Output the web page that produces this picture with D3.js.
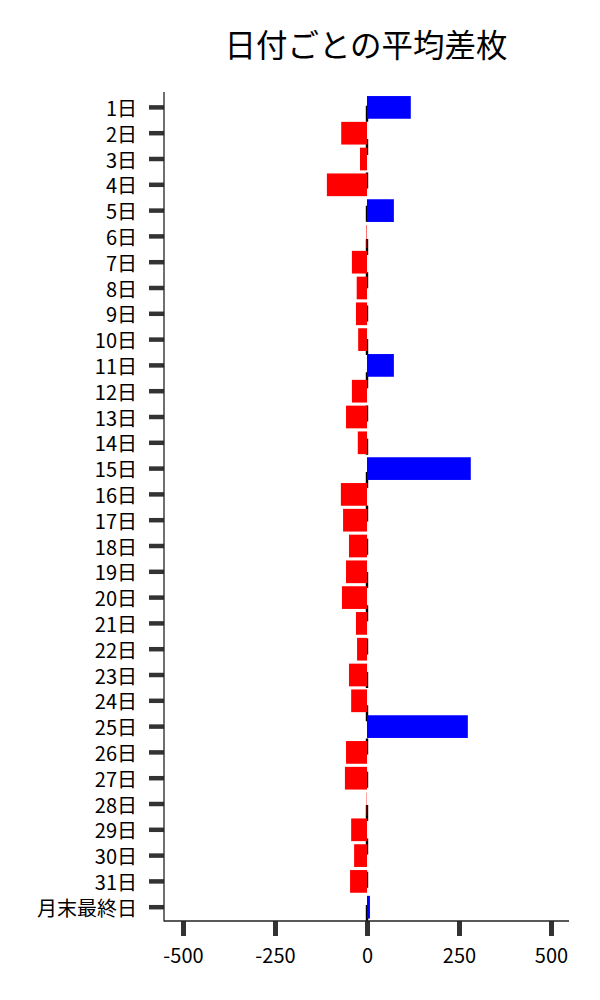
<!DOCTYPE html>
<html>
<head>
<meta charset="utf-8">
<script src="https://cdn.jsdelivr.net/npm/d3@7"></script>
<style>
  html, body { margin: 0; padding: 0; background: #fff; }
  svg { display: block; font-family: "Noto Sans CJK JP", "Noto Sans", sans-serif; }
</style>
</head>
<body>
<svg id="chart" width="600" height="1000"></svg>
<script>
const title = "日付ごとの平均差枚";
const categories = ["1日","2日","3日","4日","5日","6日","7日","8日","9日","10日",
  "11日","12日","13日","14日","15日","16日","17日","18日","19日","20日",
  "21日","22日","23日","24日","25日","26日","27日","28日","29日","30日","31日","月末最終日"];
const values = [119, -70, -19, -109, 73, -1.5, -41, -28, -30, -24,
  73, -41, -57, -25, 282, -71, -65, -49, -57, -68,
  -30, -27, -49, -43, 274, -57, -60, -1, -43, -35, -46, 8];
const xTicks = [-500, -250, 0, 250, 500];

const svg = d3.select("#chart");
const mLeft = 164, mRight = 569, mTop = 92, mBottom = 921;

const x = d3.scaleLinear().domain([-551.6, 548.9]).range([mLeft, mRight]);
const y = d3.scaleBand().domain(categories).range([94.5, 920.1])
  .paddingInner(0.12).paddingOuter(0.06);

// zero reference dashed line (drawn from bottom upward)
svg.append("line")
  .attr("x1", x(0)).attr("x2", x(0))
  .attr("y1", mBottom).attr("y2", mTop)
  .attr("stroke", "#000").attr("stroke-width", 2.4)
  .attr("stroke-dasharray", "16,17.3");

// bars
svg.append("g").selectAll("rect")
  .data(categories.map((c, i) => ({c, v: values[i]})))
  .join("rect")
  .attr("x", d => x(Math.min(0, d.v)))
  .attr("width", d => Math.abs(x(d.v) - x(0)))
  .attr("y", d => y(d.c))
  .attr("height", y.bandwidth())
  .attr("fill", d => d.v >= 0 ? "#0000ff" : "#ff0000");

// y axis
const yAxis = svg.append("g").attr("transform", `translate(${mLeft},0)`)
  .call(d3.axisLeft(y).tickSize(15).tickPadding(12));
yAxis.select(".domain").remove();
yAxis.selectAll(".tick line").attr("stroke", "#333").attr("stroke-width", 4.5);
yAxis.selectAll(".tick text")
  .attr("fill", "#000").attr("font-size", 20)
  .attr("font-family", "'Noto Sans CJK JP', sans-serif")
  .attr("dy", null).attr("dominant-baseline", "central");

// x axis
const xAxis = svg.append("g").attr("transform", `translate(0,${mBottom})`)
  .call(d3.axisBottom(x).tickValues(xTicks).tickFormat(d => String(d)).tickSize(15));
xAxis.select(".domain").remove();
xAxis.selectAll(".tick line").attr("stroke", "#333").attr("stroke-width", 5);
xAxis.selectAll(".tick text")
  .attr("fill", "#000").attr("font-size", 20)
  .attr("font-family", "'Noto Sans CJK JP', sans-serif")
  .attr("y", 42).attr("dy", null);

// spines
svg.append("line").attr("x1", mLeft).attr("x2", mLeft).attr("y1", mTop).attr("y2", mBottom + 0.6)
  .attr("stroke", "#222").attr("stroke-width", 1.3);
svg.append("line").attr("x1", mLeft).attr("x2", mRight).attr("y1", mBottom).attr("y2", mBottom)
  .attr("stroke", "#222").attr("stroke-width", 1.3);

// title
svg.append("text")
  .attr("x", 366).attr("y", 43)
  .attr("text-anchor", "middle").attr("dominant-baseline", "central")
  .attr("font-size", 31.5).attr("fill", "#000")
  .attr("font-family", "'Noto Sans CJK JP', sans-serif")
  .text(title);
</script>
</body>
</html>
